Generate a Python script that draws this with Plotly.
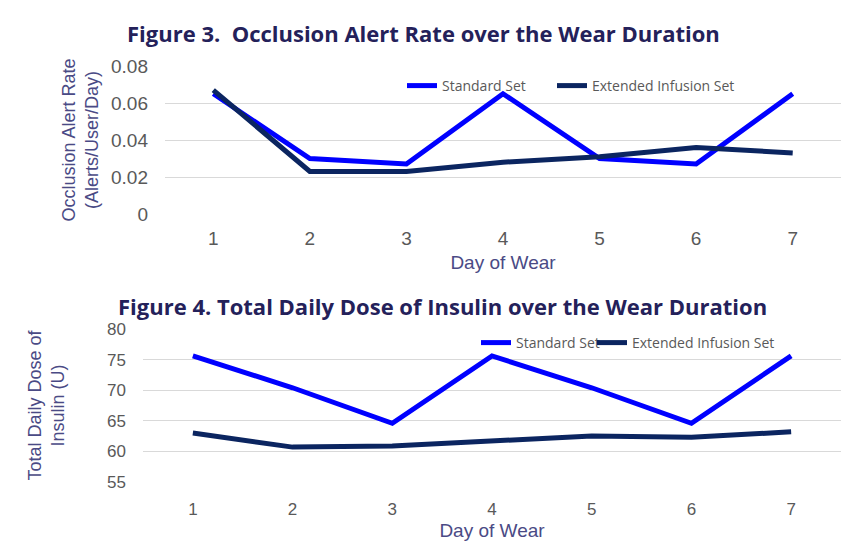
import plotly.graph_objects as go

day_labels = ["1", "2", "3", "4", "5", "6", "7"]

# Figure 3: occlusion alert rate (alerts/user/day)
occl_standard = [0.065, 0.030, 0.027, 0.065, 0.030, 0.027, 0.065]
occl_extended = [0.067, 0.023, 0.023, 0.028, 0.031, 0.036, 0.033]

# Figure 4: total daily dose of insulin (U)
tdd_standard = [75.6, 70.4, 64.6, 75.6, 70.4, 64.6, 75.6]
tdd_extended = [63.0, 60.7, 60.9, 61.7, 62.5, 62.3, 63.2]

W, H = 860, 551
OFF = 8  # page body margin
BLUE = "#0000ff"
NAVY = "#0b2560"
TITLE_C = "#24215a"
AXT_C = "#4a4a85"
TICK_C = "#595959"
GRID_C = "#d9d9d9"


def px_x(p):
    return (p - OFF) / W


def px_y(p):
    return 1 - (p - OFF) / H


fig = go.Figure()

fig.add_trace(go.Scatter(x=day_labels, y=occl_standard, mode="lines", name="Standard Set",
                         line=dict(color=BLUE, width=5), xaxis="x", yaxis="y", legend="legend"))
fig.add_trace(go.Scatter(x=day_labels, y=occl_extended, mode="lines", name="Extended Infusion Set",
                         line=dict(color=NAVY, width=5), xaxis="x", yaxis="y", legend="legend2"))
fig.add_trace(go.Scatter(x=day_labels, y=tdd_standard, mode="lines", name="Standard Set",
                         line=dict(color=BLUE, width=5), xaxis="x2", yaxis="y2", legend="legend3"))
fig.add_trace(go.Scatter(x=day_labels, y=tdd_extended, mode="lines", name="Extended Infusion Set",
                         line=dict(color=NAVY, width=5), xaxis="x2", yaxis="y2", legend="legend4"))

tickfont_top = dict(family="Liberation Sans, Arial", size=19, color=TICK_C)
tickfont_bot = dict(family="Liberation Sans, Arial", size=17, color=TICK_C)
axtitle_font = dict(family="Liberation Sans, Arial", size=19, color=AXT_C)
legfont = dict(family="Open Sans", size=14, color=TICK_C)


def leg(xp, yp):
    return dict(orientation="h", x=px_x(xp), y=px_y(yp), xanchor="left", yanchor="middle",
                bgcolor="rgba(0,0,0,0)", font=legfont, itemwidth=30, tracegroupgap=0)


fig.update_layout(
    width=W, height=H,
    margin=dict(l=0, r=0, t=0, b=0, autoexpand=False),
    paper_bgcolor="white", plot_bgcolor="white",
    xaxis=dict(domain=[px_x(165), px_x(841)], type="category", anchor="y", range=[-0.5, 6.5],
               showgrid=False, showline=False, zeroline=False, ticks="", automargin=False,
               tickfont=tickfont_top, ticklabelstandoff=11,
               title=dict(text="Day of Wear", font=axtitle_font, standoff=7)),
    yaxis=dict(domain=[px_y(214), px_y(66)], range=[0, 0.08], dtick=0.02, anchor="x",
               tickformat="~g", showgrid=True, gridcolor=GRID_C, gridwidth=1, zeroline=False,
               showline=False, ticks="", automargin=False, tickfont=tickfont_top, ticklabelstandoff=16,
               title=dict(text="Occlusion Alert Rate<br>(Alerts/User/Day)",
                          font=dict(family="Liberation Sans, Arial", size=18, color=AXT_C), standoff=7)),
    xaxis2=dict(domain=[px_x(143), px_x(841)], type="category", anchor="y2", range=[-0.5, 6.5],
                showgrid=False, showline=False, zeroline=False, ticks="", automargin=False,
                tickfont=tickfont_bot, ticklabelstandoff=15,
                title=dict(text="Day of Wear", font=axtitle_font, standoff=5)),
    yaxis2=dict(domain=[px_y(482), px_y(329)], range=[55, 80], dtick=5, anchor="x2",
                showgrid=True, gridcolor=GRID_C, gridwidth=1, zeroline=False,
                showline=False, ticks="", automargin=False, tickfont=tickfont_bot, ticklabelstandoff=16,
                title=dict(text="Total Daily Dose of<br>Insulin (U)",
                           font=dict(family="Liberation Sans, Arial", size=18, color=AXT_C), standoff=37)),
    legend=leg(402, 86),
    legend2=leg(552, 86),
    legend3=leg(476, 343),
    legend4=leg(592, 343),
    annotations=[
        dict(text="<b>Figure 3.  Occlusion Alert Rate over the Wear Duration</b>",
             x=px_x(423), y=px_y(33), xref="paper", yref="paper", showarrow=False,
             xanchor="center", yanchor="middle",
             font=dict(family="Open Sans", size=22, color=TITLE_C)),
        dict(text="<b>Figure 4. Total Daily Dose of Insulin over the Wear Duration</b>",
             x=px_x(442), y=px_y(306), xref="paper", yref="paper", showarrow=False,
             xanchor="center", yanchor="middle",
             font=dict(family="Open Sans", size=22, color=TITLE_C)),
    ],
    showlegend=True,
)

fig.write_html("out.html")
